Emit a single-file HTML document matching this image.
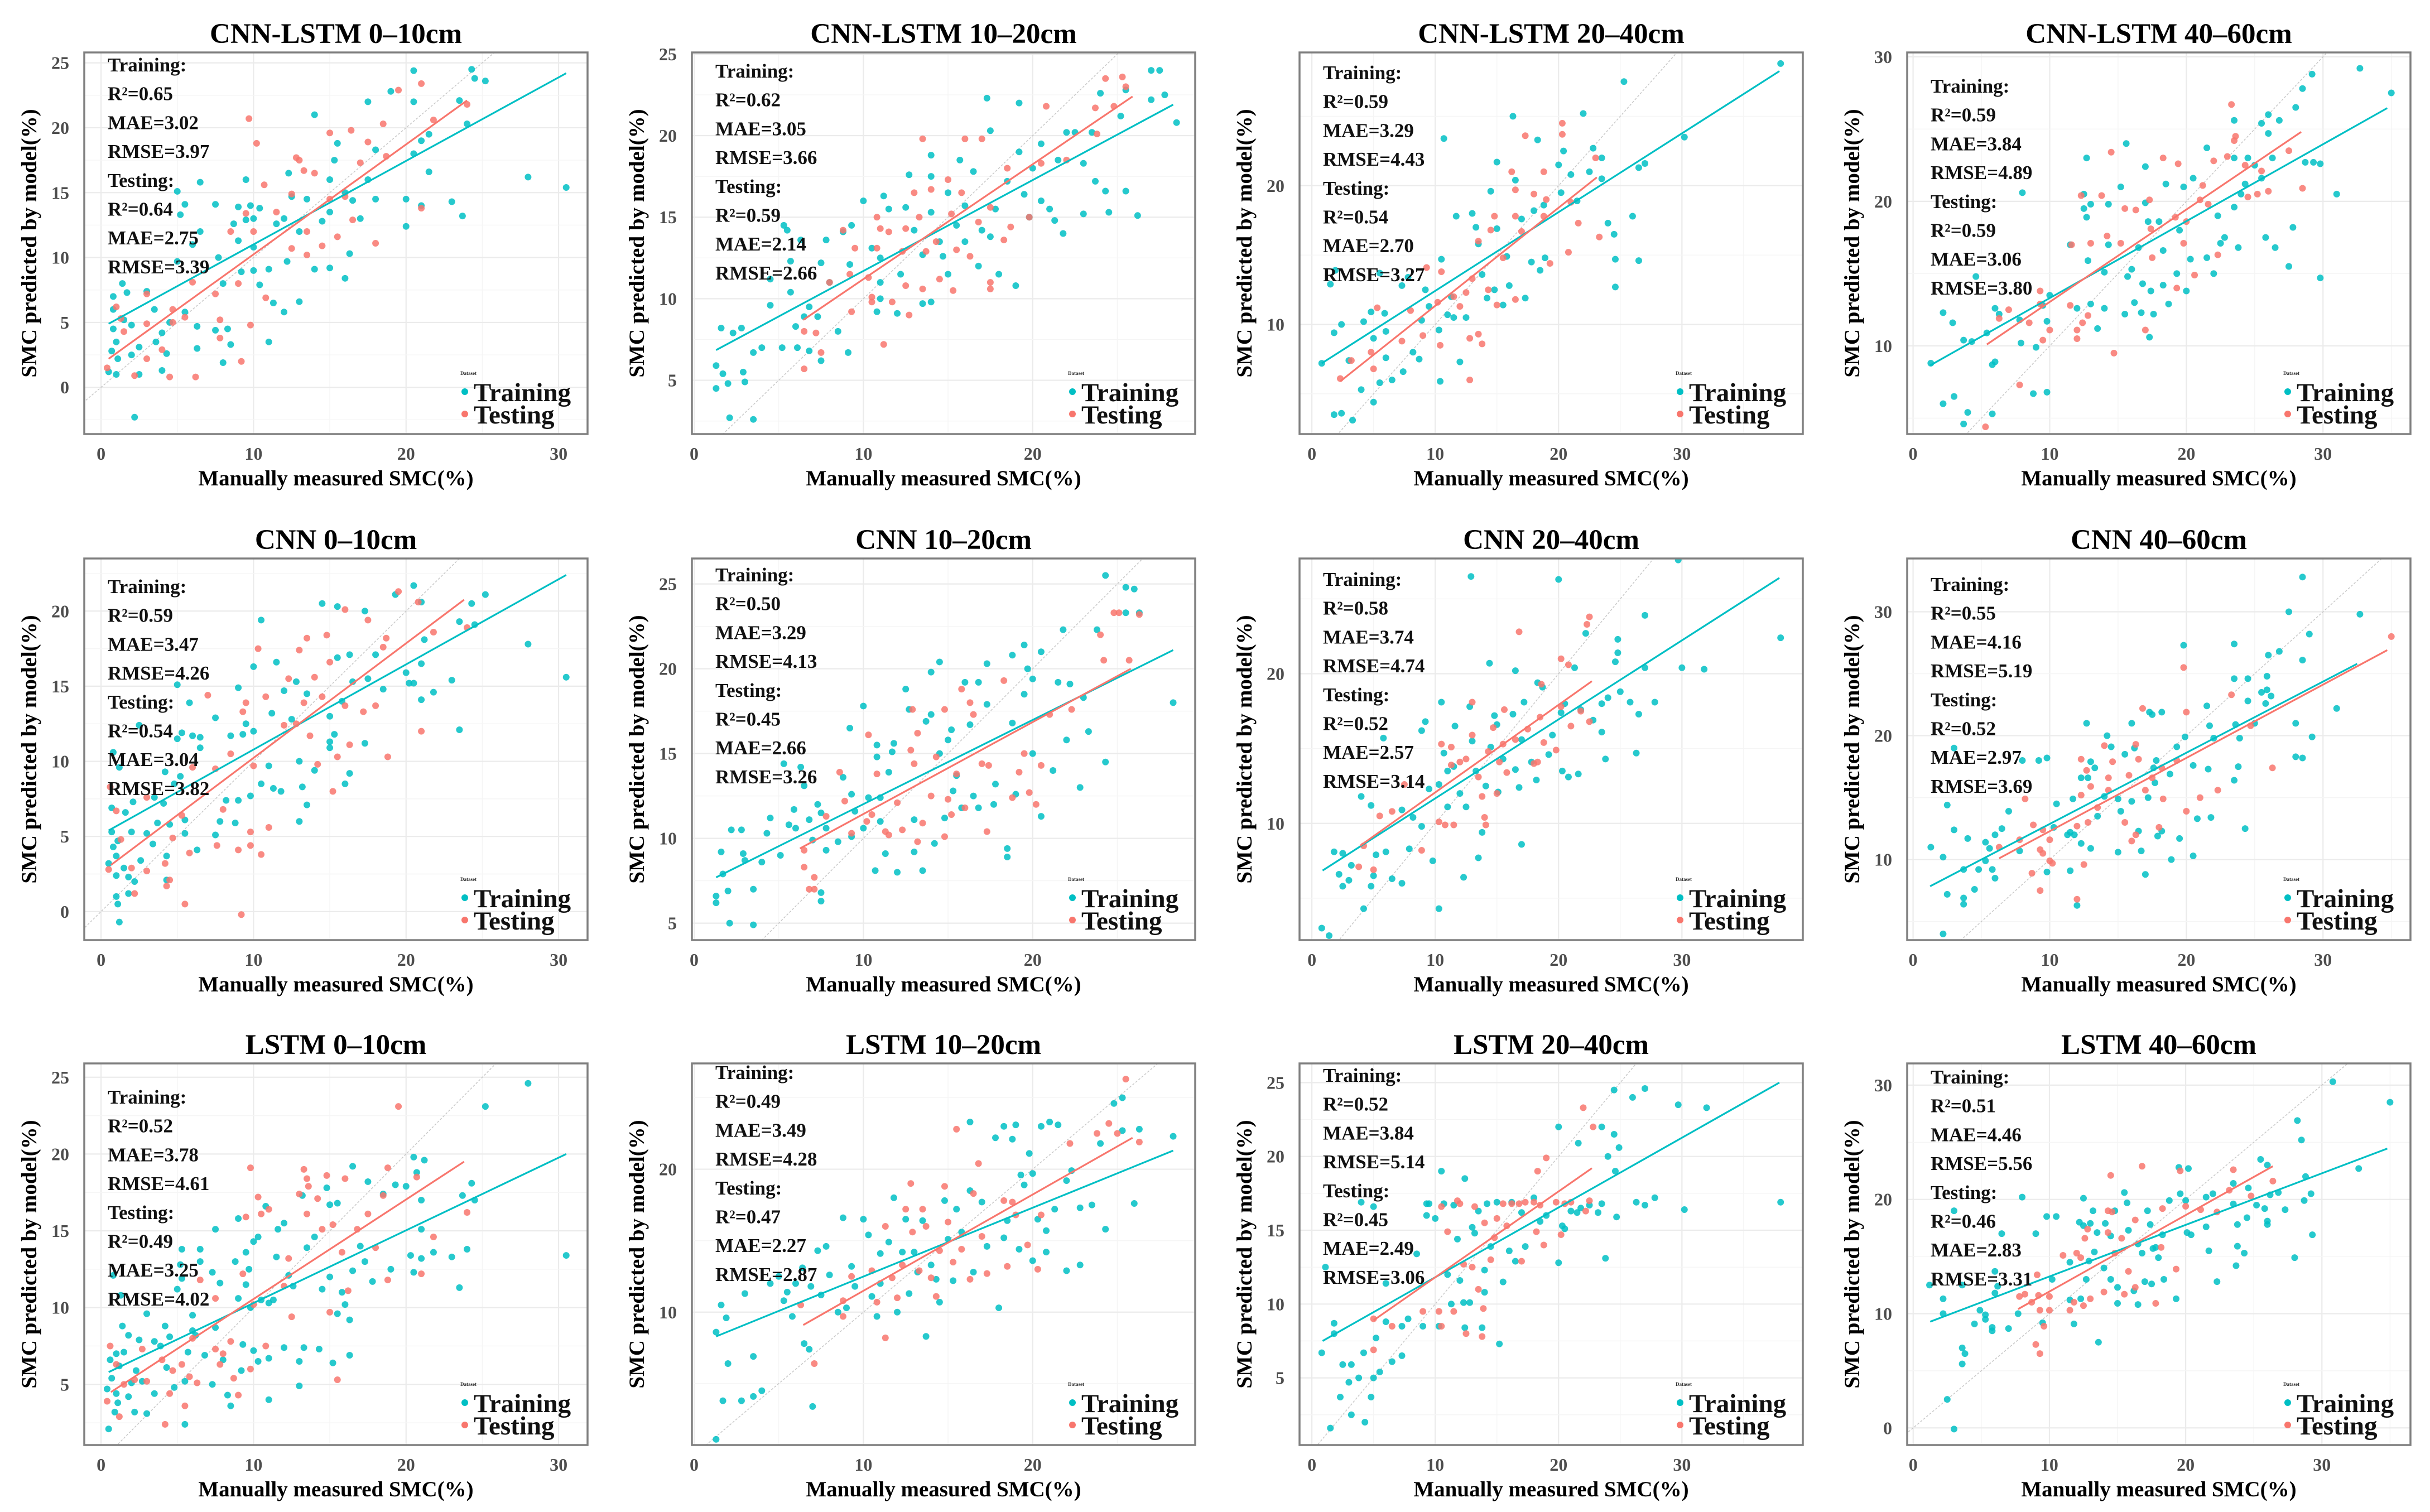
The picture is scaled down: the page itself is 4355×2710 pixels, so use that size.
<!DOCTYPE html>
<html><head><meta charset="utf-8"><title>SMC model scatter plots</title>
<style>
html,body{margin:0;padding:0;background:#fff;}
svg{display:block;font-family:"Liberation Serif","DejaVu Serif",serif;}
svg text{font-family:"Liberation Serif","DejaVu Serif",serif;}
</style></head>
<body>
<svg id="chart" xmlns="http://www.w3.org/2000/svg" width="4355" height="2710" viewBox="0 0 4355 2710"></svg>
<script>
// ---------- data ----------
const titles = ["CNN-LSTM 0–10cm","CNN-LSTM 10–20cm","CNN-LSTM 20–40cm","CNN-LSTM 40–60cm",
  "CNN 0–10cm","CNN 10–20cm","CNN 20–40cm","CNN 40–60cm",
  "LSTM 0–10cm","LSTM 10–20cm","LSTM 20–40cm","LSTM 40–60cm"];
const statsTrain = [["0.65","3.02","3.97"],["0.62","3.05","3.66"],["0.59","3.29","4.43"],["0.59","3.84","4.89"],
  ["0.59","3.47","4.26"],["0.50","3.29","4.13"],["0.58","3.74","4.74"],["0.55","4.16","5.19"],
  ["0.52","3.78","4.61"],["0.49","3.49","4.28"],["0.52","3.84","5.14"],["0.51","4.46","5.56"]];
const statsTest = [["0.64","2.75","3.39"],["0.59","2.14","2.66"],["0.54","2.70","3.27"],["0.59","3.06","3.80"],
  ["0.54","3.04","3.82"],["0.45","2.66","3.26"],["0.52","2.57","3.14"],["0.52","2.97","3.69"],
  ["0.49","3.25","4.02"],["0.47","2.27","2.87"],["0.45","2.49","3.06"],["0.46","2.83","3.31"]];
const xRanges = [[-1.1,31.9],[-0.13,29.6],[-1.0,39.8],[-0.43,36.4],[-1.1,31.9],[-0.13,29.6],[-1.0,39.8],[-0.43,36.4],[-1.1,31.9],[-0.13,29.6],[-1.0,39.8],[-0.44,36.5]];
const yRanges = [[-3.6,25.8],[1.7,25.1],[2.1,29.6],[3.9,30.3],[-1.9,23.5],[4.0,26.5],[2.2,27.7],[3.5,34.3],[1.05,25.9],[0.7,27.4],[0.45,26.3],[-1.5,31.9]];
const xTicks = [[0,10,20,30],[0,10,20],[0,10,20,30],[0,10,20,30],[0,10,20,30],[0,10,20],[0,10,20,30],[0,10,20,30],[0,10,20,30],[0,10,20],[0,10,20,30],[0,10,20,30]];
const yTicks = [[0,5,10,15,20,25],[5,10,15,20,25],[10,20],[10,20,30],[0,5,10,15,20],[5,10,15,20,25],[10,20],[10,20,30],[5,10,15,20,25],[10,20],[5,10,15,20,25],[0,10,20,30]];
const trainFit = [[0.5,4.9,30.5,24.2],[1.3,6.85,28.3,21.9],[0.8,7.2,37.9,28.25],[1.25,8.65,34.7,26.45],
  [0.5,5.4,30.5,22.4],[1.3,7.7,28.3,21.1],[0.87,6.85,37.9,26.4],[1.25,7.85,32.5,25.8],
  [0.5,5.8,30.5,20.0],[1.3,8.3,28.3,21.3],[0.87,7.5,37.9,25.0],[1.25,9.3,34.8,24.45]];
const testFit = [[0.5,2.2,24,22.1],[6.45,8.7,25.9,22.4],[2.3,5.9,23.1,20.6],[5.4,10.1,28.4,24.8],
  [0.65,3.1,23.8,20.75],[6.25,9.4,25.8,20.0],[3.9,8.5,22.7,19.5],[6.3,10.1,34.7,26.9],
  [0.65,4.5,23.8,19.5],[6.45,9.1,25.9,22.2],[5.0,8.9,22.7,19.2],[7.7,10.4,26.4,22.9]];

const train1=[[0.5,1.2],[0.7,2.8],[0.8,4.5],[1,3.5],[1,1],[1.1,2.2],[0.8,7],[0.8,6],[1.4,8],[1.7,7.3],[1.5,5.2],[2,4.8],[2,2.5],[2.2,-2.3],[2.5,3.1],[2.5,1],[3,7.4],[3.5,6],[3.6,3.5],[4,4.2],[4,1.3],[4.3,2.6],[4.5,5],[5,9.7],[5,15.1],[5.2,13.3],[5.5,14.1],[5.5,5.8],[6,11],[6.3,3],[6.3,4.7],[6.5,15.8],[6.5,12],[7.5,14.1],[7.5,4.4],[7.7,10],[8,1.9],[8,8],[8.3,4.5],[8.5,3.3],[8.7,12.6],[9,13.9],[9,11.3],[9.2,8.9],[9.5,16],[9.8,14],[9.5,12.9],[10,9],[10,10.8],[10,13],[10.4,7.9],[10.4,13.8],[11,9.1],[11,3.5],[11.3,6.5],[11.5,12.6],[12,13],[12,5.8],[12.2,9.7],[12.3,16.5],[12.5,14.7],[13,12],[13,6.6],[13.5,14.5],[14,21],[14,9.1],[14.5,12.8],[15,16],[15,13.5],[15,9.2],[15.3,17.5],[15.5,18.8],[16,8.4],[16,15],[16.3,10.3],[16.5,14.4],[17,13],[17.5,22],[17.5,16],[18,14.5],[18,18.3],[19,22.8],[20,12.4],[20,14.5],[20.5,24.4],[20.5,18],[20.5,22],[21,19],[21,14],[21.5,16.6],[21.5,19.5],[23,14.3],[23.5,22.1],[23.7,13.2],[24,20.3],[24.3,24.5],[24.5,23.8],[25.2,23.6],[28,16.2],[30.5,15.4]];
const test1=[[0.4,1.5],[1,6.2],[1.3,5.3],[1.5,4.3],[2.2,0.9],[3,7.2],[3,2.2],[3,4.9],[4,2.9],[4.5,0.8],[4.7,6],[4.7,5],[5.5,5.4],[6,8.1],[6.2,0.8],[7.5,7.2],[7.8,5.2],[7.8,3.8],[8.5,12],[9,8],[9.2,2],[9.5,13.4],[9.7,20.7],[9.8,4.8],[10,12],[10.2,18.8],[10.7,15.6],[10.8,6.9],[11.5,13.5],[12.5,10.7],[12.5,14.9],[12.8,17.7],[13,17.5],[13.3,16.7],[13.5,10.2],[13.5,12],[14,16.5],[14.5,10.9],[15,19.6],[15,14.5],[15.5,11.6],[16,14.7],[16.4,19.8],[16.5,12.9],[17,17.3],[17.5,18.9],[18,11.1],[18.5,20.3],[18.7,17.8],[19.5,22.9],[21,23.4],[21,13.8],[21.8,20.6],[24,21.8]];
const train2=[[1.3,4.5],[1.3,5.9],[1.6,8.2],[1.7,5.4],[2,4.8],[2.1,2.7],[2.3,7.9],[2.8,8.2],[2.9,5.5],[3,4.9],[3.5,2.6],[3.5,6.7],[4,7],[4.5,9.6],[4.5,11.2],[5.2,7],[5.3,14.5],[5.5,14.2],[5.7,10.4],[5.7,12.3],[6,8.3],[6.1,7],[6.3,13.6],[6.5,8.9],[6.8,9.5],[6.8,6.8],[7.3,8.9],[7.5,12.2],[7.5,6.2],[7.8,13.6],[8,11],[8.5,8],[8.8,14.1],[9.1,6.7],[9.2,12.1],[9.3,14.5],[10,16],[10.5,13.1],[10.8,9.2],[11,11],[11,10],[11,12.5],[11.2,16.3],[11.5,15.5],[12,9.1],[12.2,11.5],[12.5,15.6],[12.7,17.6],[13,14.2],[13.5,9.7],[13.5,12.7],[14,18.8],[14,17.5],[14,15.3],[14,9.8],[14.5,13.5],[14.7,12.6],[15,16.5],[15,11.5],[15.5,14.5],[15.7,18.5],[16,15.7],[16,13.5],[16.5,17.8],[16.8,12],[17,14.2],[17.3,22.3],[17.5,20.3],[17.5,13.8],[17.8,15.5],[18,11.5],[18.5,17.2],[19,10.8],[19.2,22],[19.2,19],[19.5,16.4],[19.8,15],[20,18],[20.5,19.5],[20.5,16],[21,15.5],[21.3,14.8],[21.5,18.5],[21.8,14],[22,20.2],[22.5,20.2],[23,15.2],[23,18.3],[23.5,20.2],[23.7,17.2],[24,22.6],[24.3,16.6],[24.5,15.3],[25.5,16.6],[25.2,21.2],[25.5,22.8],[26.2,15.1],[27,22.2],[27,24],[27.5,24],[27.8,22.5],[28.5,20.8]];
const test2=[[6.5,5.7],[6.5,8],[7.2,7.9],[7.5,6.7],[8,11],[8.8,14.2],[9.2,11.5],[9.3,9.2],[9.5,13.1],[10.3,11.3],[10.5,10.1],[10.8,15],[10.8,13.1],[10.5,9.8],[11,14.3],[11.2,7.2],[11.5,14.1],[11.7,9.8],[12.3,12.9],[12.5,14.3],[12.5,10.8],[12.7,9],[13,16.5],[13.5,19.8],[13.3,15],[13.5,10.6],[13.7,12.9],[14,16.7],[14.3,13.5],[14.5,11.2],[15,17.3],[15.2,15.2],[15.3,10.5],[15.5,13],[15.8,16.5],[16,19.8],[16.3,12.6],[16.8,14.7],[17,19.8],[17.5,15.6],[17.5,11],[17.5,10.6],[18.3,13.6],[18.5,18],[18.7,14.4],[19.8,15],[20.5,18.3],[20.8,21.8],[22,18.5],[23.7,21.7],[23.8,20.1],[24.3,23.5],[24.8,21.8],[25.3,23.6],[25.5,23]];
const train3=[[0.8,7.2],[1.5,12.9],[1.8,3.5],[1.8,9.4],[1.9,13.9],[2.4,3.6],[2.4,10],[3,7.4],[3.3,3.1],[4,5.3],[4.2,10.2],[4.8,10.9],[5,9],[5,4.4],[5.5,5.8],[5.5,13.7],[5.9,10.8],[6,7.6],[6,9.5],[6.5,6],[7.3,12.8],[7.4,6.6],[7.8,13.4],[8.2,8],[8.7,7.5],[8.9,10.3],[9.2,12.5],[9.5,11.3],[10.3,9.6],[10.4,5.9],[10.5,14.7],[10.7,23.4],[11,10.7],[11.3,12],[11.5,10.5],[11.7,17.8],[12,7.3],[12.5,10.5],[13,18],[13.3,17],[13.5,15.8],[13.8,13.6],[14.2,11.9],[14.5,19.6],[14.8,12.5],[15,16.9],[15,21.7],[15.5,11.4],[15.8,14.9],[16,12.8],[16.3,25],[16.5,20.4],[17,17.6],[17.3,11.9],[17.8,14.5],[18,18.2],[18.3,23.3],[18.5,13.9],[18.8,18.6],[18.9,14.8],[20,21.5],[20.2,19.5],[20.4,22.5],[21,20.8],[21.5,18.9],[22,25.2],[22.5,21],[22.8,22.7],[23.5,20.5],[23.5,22],[24,17.3],[24.5,16.5],[24.6,14.7],[24.6,12.7],[25.3,27.5],[26,17.8],[26.5,14.6],[26.5,21.3],[27,21.6],[30.2,23.5],[38,28.8]];
const test3=[[2.3,6.1],[3.2,7.4],[4.8,8],[5,6.8],[5.3,11.2],[7.3,8.8],[8,11],[9,9.2],[9.3,14.1],[10.2,11.6],[10.4,8.5],[10.5,13.8],[11.5,12],[12,11.3],[12.5,12.3],[12.8,6],[12.8,9],[13,13.3],[13.5,16],[13.5,9.3],[13.8,8.6],[14.3,12.5],[14.5,16.8],[14.8,17.8],[15,11.4],[15.5,14.8],[16.2,21],[16.5,19.7],[16.5,17.8],[16.5,11.8],[17,16.7],[17.3,23.6],[18,19.4],[18.8,21],[18.8,17.8],[19,19],[19.3,14.4],[20.3,24.5],[20.3,23.7],[20.8,15.2],[21,18.8],[21.6,17.3],[23,22],[23.3,16.3]];
const train4=[[1.3,8.8],[2.2,12.3],[2.2,6],[2.9,11.6],[3,6.5],[3.7,4.6],[3.7,10.4],[4,5.4],[4.3,10.3],[4.6,14.8],[5.4,10.9],[5.8,5.3],[5.8,8.7],[6,8.9],[6,12.6],[6.3,12.2],[7.8,11.8],[7.9,10.2],[8,20.6],[8.8,6.7],[9,9.9],[9.5,12.8],[9.8,6.8],[9.8,11.7],[10,13.5],[11.5,17],[12,12.6],[12.5,19.5],[12.5,20.5],[12.7,18.9],[12.7,23],[12.8,15.9],[13,19.8],[13,12.9],[13.5,11.2],[14,15.1],[14,12.6],[14.3,17],[14.3,19.8],[15.2,21],[15.5,12.2],[15.6,24],[15.7,14.8],[16,15.3],[16.2,13],[16.5,16.8],[16.7,12.3],[16.8,14.3],[17,22.4],[17,19.9],[17.2,18.6],[17.3,10.6],[17.4,13.8],[17.6,12.2],[18,18.6],[18.3,16.6],[18.3,14.2],[18.5,21.2],[18.7,12.9],[19.3,15],[19.5,18],[19.8,21],[20,13.8],[20.3,16],[20.5,21.6],[21.5,23.7],[21.5,16.1],[22,15],[22.3,19],[22.5,17.1],[22.8,17.5],[23.5,19.6],[23.5,25.6],[23.5,23],[23.8,16.8],[24,20.5],[24.3,21.2],[24.5,23],[25,22.5],[25.5,21.6],[25.5,25.4],[25.8,17.5],[26,24.7],[26,26],[26.3,23],[26.5,16.8],[26.8,25.6],[27.5,15.5],[27.8,18.2],[28,26.5],[28.5,27.8],[28.7,22.7],[29.2,28.8],[29.3,22.7],[29.8,22.6],[29.8,14.7],[31,20.5],[32.7,29.2],[35,27.5]];
const test4=[[5.3,4.4],[6.3,11.9],[7,12.5],[7.8,7.3],[8.5,11.6],[9.3,13.8],[9.3,12.9],[9.5,10.4],[10,11.1],[11.5,12.8],[11.6,17],[12,11.1],[12,10.5],[12.3,20.4],[12.4,11.6],[12.8,12.1],[13,17.1],[13.8,20.4],[14.2,17.6],[14.5,23.4],[14.7,9.5],[15.2,17.1],[15.5,19.5],[16.3,19.4],[17,11.1],[17.3,20.1],[17.4,18.1],[17.5,16.1],[18.3,23],[19.2,18.9],[19.3,14],[19.4,22.6],[19.8,17.1],[20,18.6],[20.6,14.9],[21,20.1],[21.2,21.1],[21.6,19.8],[22,22.8],[22.3,16.3],[23,23.1],[23.3,26.7],[23.5,24.2],[23.6,24.5],[24.3,22.5],[24.5,20.3],[25.2,20.5],[25.5,22.1],[26,20.7],[27.5,23.5],[28.5,20.9]];
const train5=[[0.5,3.2],[0.7,5.3],[0.7,6.9],[0.8,10.6],[0.8,4.3],[1,1],[1,3.7],[1,2.4],[1.1,0.5],[1.1,4.7],[1.2,9.6],[1.2,-0.7],[1.5,2.9],[1.6,6.6],[1.8,1.2],[1.8,2.3],[2,5.3],[2.1,7.3],[2.2,2],[2.5,12.4],[2.6,3.4],[3,5.2],[3.4,4.5],[3.5,7.6],[3.7,5.9],[4.1,7.2],[4.2,9.3],[4.3,3.7],[4.3,2.1],[4.5,5.8],[4.8,8.5],[5,11.5],[5,15.1],[5.2,9],[5.3,11.9],[5.5,5.2],[5.5,6.1],[5.8,13.9],[6,11.7],[6.3,4.1],[6.5,11.6],[6.5,10.9],[7.5,12.9],[7.5,5.1],[7.8,6],[8.2,7.4],[8.5,11.7],[8.8,5.9],[9,14.9],[9,7.4],[9.3,11.8],[9.5,12.5],[9.8,7.7],[10,16.3],[10,12],[10.5,19.4],[10.5,8.5],[11,9.7],[11.2,13.2],[11.3,8.2],[11.5,16.6],[11.8,8],[12,14.7],[12.5,12.8],[12.8,15.3],[13,6],[13,10],[13.2,8.3],[13.5,7.1],[13.5,14.5],[14,9.4],[14.5,20.5],[15,13],[15,11.3],[15,10.9],[15.3,11.8],[15.5,20.3],[15.5,16.9],[15.8,14],[16,8.5],[16.3,17.1],[16.3,9.2],[16.5,15.3],[17.3,20],[17.3,11.2],[17.5,15.5],[18,17.1],[18.5,14.8],[19.3,21.1],[20,15.9],[20.2,15.2],[20.5,21.7],[20.5,15.2],[21,16.5],[21,14.1],[21,20.6],[21.2,18.1],[21.8,14.6],[23,15.4],[23.5,19.3],[23.5,12.1],[24.3,20.5],[24.5,19.1],[25.2,21.1],[28,17.8],[30.5,15.6]];
const test5=[[0.5,2.8],[0.6,8.3],[1,6.7],[1.3,4.8],[2,2.9],[2.2,1.2],[3,2.7],[3,7.6],[4.2,3.2],[4.3,1.7],[4.5,2.1],[4.7,4.9],[5.5,0.5],[5.3,6.4],[5.8,3.9],[6,9.6],[7,14.4],[7.5,9.5],[7.6,4.4],[8,6.8],[8.5,10.5],[9,4.1],[9.2,-0.2],[9.3,13.3],[9.5,13.9],[9.8,4.4],[9.8,5.3],[10,9.7],[10.3,17.5],[10.5,3.8],[10.8,14.3],[11,5.6],[12,12.4],[12.3,15.5],[12.8,12.5],[13,17.4],[13.3,13.9],[13.5,18.2],[13.7,11.7],[14,15.6],[14.2,9.8],[14.5,14.3],[14.8,18.4],[15,16.6],[15.2,8],[15.5,10.3],[16,20.1],[16,13.7],[16.3,11.1],[17.2,13.3],[17.5,19.4],[18,13.7],[18.5,17.6],[18.7,18.2],[18.8,10.3],[19.5,21.3],[21,12],[20.8,20.6],[21.8,18.6],[24,18.9]];
const train6=[[1.3,6.6],[1.3,6.2],[1.6,9.2],[1.7,7.9],[2,6.9],[2.1,5],[2.2,10.5],[2.8,10.5],[2.9,9.1],[3,8.7],[3.5,7],[3.5,4.9],[4,8.6],[4.3,10.3],[4.5,11.2],[5.1,9],[5.3,14.4],[5.6,10.8],[5.9,11.7],[6,10.6],[6.3,14.2],[6.5,13.1],[6.8,11.1],[7,9.9],[7.3,12],[7.5,6.8],[7.5,6.3],[7.5,11.5],[7.8,10.6],[7.8,9.3],[8.5,9.8],[8.8,13.6],[9.2,16.5],[9.3,10.1],[9.3,12.6],[9.5,11.6],[10,17.8],[10,10.6],[10.3,12.4],[10.7,8.1],[10.8,14.8],[10.8,15.5],[11,11],[11,12.4],[11.3,9.1],[11.5,13.9],[11.7,15.1],[11.8,15.6],[12,8],[12.5,18.8],[12.7,17.6],[13,9.2],[13,11.1],[13.5,8.1],[13.7,16.9],[14,17.3],[14,19.8],[14.2,9.7],[14.5,15],[14.5,20.4],[14.8,11.2],[15,15.8],[15.2,16.4],[15.3,12.8],[15.5,13.7],[15.8,11.8],[16,19.2],[16.3,16.7],[16.5,12.5],[16.8,19.2],[16.8,11.8],[17.3,17.9],[17.3,20.3],[17.7,12],[17.8,13.2],[18.5,8.9],[18.5,9.4],[18.8,20.8],[18.8,16.8],[19,12.6],[19.5,21.4],[19.5,18.5],[19.7,20],[20,19.4],[20,15],[20.5,11.3],[20.5,21],[21.2,14],[21.5,19.2],[21.8,22.3],[22,15.8],[22.2,19.1],[22.8,13],[23,18.3],[23.3,16.3],[23.8,22.3],[24.3,14.5],[24.3,25.5],[25.5,23.3],[25.5,24.8],[26,24.7],[26.3,23.3],[28.3,18]];
const test6=[[6.5,9.3],[6.5,8.3],[6.8,7],[7.1,7.7],[7.1,7],[7.8,11.3],[8.6,13.9],[8.9,12.2],[9.3,10.3],[10.2,11],[10.3,16.1],[10.5,11.4],[10.8,13.8],[11.3,10.4],[11.5,10.2],[12,12.1],[12.3,10.5],[12.8,15.2],[12.9,17.6],[13,14.4],[13.2,16.2],[13.2,9.8],[13.5,10.9],[14,12.5],[14.3,14.8],[14.8,17.6],[14.8,10.1],[15,12.3],[15.2,11.4],[15.5,13.8],[15.8,18.8],[16,11.8],[16.3,18],[16.5,17.3],[17,14.4],[17.3,10.4],[17.4,14.3],[18.3,19.3],[18.8,12.4],[19.2,13.9],[19.5,15],[19.8,12.7],[20.2,12],[20.5,14.3],[21,17.3],[22.3,17.6],[24,22],[24.2,20.5],[24.8,23.3],[25.1,23.3],[25.7,20.5],[26.3,23.2]];
const train7=[[0.8,3],[1.4,2.5],[1.8,8.1],[2.2,6.6],[2.5,5.8],[2.5,8],[3,6.2],[3.2,2],[3.2,7.2],[4,11.8],[4.2,4.3],[4.8,11.2],[4.8,5.8],[5,6.5],[5.2,7.9],[5.8,15.7],[6,8.1],[6.5,6.3],[7.3,6],[7.3,10.9],[7.9,8.3],[8.2,10.4],[8.9,16.2],[8.9,9.8],[9.2,16.8],[9.5,12.3],[9.8,7.5],[10.3,12.6],[10.3,4.3],[10.5,18.1],[10.7,14.7],[11,13.5],[11,11.1],[11.5,13.8],[11.6,16.5],[12,12],[12.3,6.4],[12.5,11.1],[12.8,17.8],[13,15.5],[13.3,13.5],[13.5,7.7],[13.8,9.4],[14.1,12.5],[14.4,20.7],[14.5,15.1],[14.8,17.2],[15,16.6],[15.1,12.1],[15.5,14.3],[16.3,17.3],[16.5,20.2],[16.5,13.6],[16.8,12.4],[17,15.6],[17,8.6],[17.2,18.1],[17.8,14.1],[18.2,12.9],[18.3,19.4],[18.7,19.1],[19.2,14.6],[19.5,15.9],[20,26.3],[20.2,17.4],[20.3,13.5],[20.5,18],[20.8,13.1],[21.3,20.4],[21.6,13.3],[21.8,17.6],[22.2,22.7],[22.8,16.9],[23.5,16.1],[23.5,18],[23.8,14.3],[24,18.4],[24.6,20.8],[24.8,21.4],[24.8,22.3],[25,18.8],[25.8,18.1],[26.3,14.7],[26.5,17.3],[27,23.9],[27,20.4],[27.8,18.1],[29.7,27.6],[30,20.4],[31.8,20.3],[38,22.4],[12.9,26.5]];
const test7=[[3.8,7.1],[4.2,8.5],[5,6.9],[5.5,10.5],[6.5,10.8],[7.5,12.6],[8.9,8.2],[10.3,10.1],[10.5,15.3],[10.8,9.9],[11.3,15.1],[11.3,13.9],[11.5,9.9],[12,14.1],[12.5,14.3],[13,15.9],[13,18.1],[13.5,13.1],[13.8,11.8],[14,10.4],[14.1,9.9],[14.3,14.8],[14.7,16.4],[15,12],[15.2,14.1],[15.5,15.3],[15.6,17.6],[15.8,13.4],[16.5,15.6],[16.8,22.8],[17.5,16.3],[18,14],[18.3,14.1],[18.5,17.1],[18.6,19.3],[18.8,15.4],[19.8,14.9],[20.2,21],[20.2,17.8],[20.8,20.6],[21,16.5],[21.8,17.5],[22.3,23.3],[22.5,16.8],[22.5,23.8]];
const train8=[[1.3,11],[2.2,10.2],[2.2,4],[2.5,14.4],[2.5,7.2],[3,12.4],[3,19],[3.7,9.2],[3.7,6.9],[3.7,6.4],[4,11.7],[4.5,7.6],[4.8,9.2],[5.3,11.4],[5.3,9.9],[5.6,10.9],[5.8,9.2],[6,8.5],[6,12],[6.5,12.5],[7,13.9],[7.8,10.7],[8,18],[9.2,18],[9.8,9],[9.8,18.2],[10.3,12.6],[10.5,14.5],[11.3,12],[11.5,9.1],[11.5,12.2],[11.7,14.9],[11.8,12],[12,6.3],[12.3,16.6],[12.3,11.3],[12.7,21],[12.8,16.6],[13,17.9],[13,10.9],[13.3,17.4],[13.5,13.5],[14,15.1],[14.2,20],[14.5,19.1],[15,14.9],[15,10.6],[15.2,13.9],[15.5,18.5],[16,14.7],[16,21],[16.2,19],[16.5,12.3],[16.7,10.7],[17,8.8],[17.2,15],[17.3,21.9],[17.5,21.7],[17.6,17.4],[17.7,16.2],[17.8,18],[17.9,11.9],[18.2,21.9],[18.2,12.3],[18.8,16.9],[18.9,10],[19.3,19.1],[19.5,11.7],[19.8,27.3],[19.9,19.9],[20.5,17.6],[20.5,10.3],[20.8,13.3],[21.5,22.4],[21.6,17.3],[21.7,20.8],[21.8,13.4],[22,19.8],[23.5,24.6],[23.5,16.4],[23.5,27.4],[23.6,20.9],[23.8,17.5],[23.9,19.8],[24.3,12.5],[24.5,24.6],[24.5,22.8],[25,21],[25.5,23.5],[25.8,22.6],[25.9,23.7],[25.9,24.8],[26,26.5],[26.2,23.2],[26.8,26.8],[27.5,30],[28,21],[28,18.3],[28.5,26.1],[28.5,18.2],[28.5,32.8],[29,28.2],[29.2,19.9],[31,22.2],[32.7,29.8]];
const test8=[[6.3,11],[7.8,11.6],[8.2,14.9],[8.7,8.9],[8.8,12.8],[9.3,10.8],[9.3,7.5],[9.5,12.4],[9.5,10.5],[10,11.6],[10,9.9],[10.2,9.7],[12,6.8],[12,12.7],[12.3,15.2],[12.3,18.1],[12.5,9.6],[12.7,17.2],[12.8,13],[13,15.9],[13.5,14.2],[14,19.2],[14.3,15.6],[14.3,16.6],[14.6,17.9],[15.5,13],[15.8,16.8],[16,11.5],[16.3,12],[16.3,19.3],[16.5,18.1],[16.8,22.2],[17,15.6],[17.5,16.6],[18,12.6],[18.2,17.4],[18.3,14.9],[19.3,18],[19.8,25.5],[20,13.9],[20,21.9],[21,15],[22.3,15.6],[23.3,23.3],[24.7,20.8],[26.3,17.4],[35,28]];
const train9=[[0.4,4.7],[0.5,2.1],[0.6,6.6],[0.7,5.4],[0.8,12.1],[0.9,3.2],[1,4.4],[1,7],[1.1,3.8],[1.2,6.2],[1.3,10.8],[1.4,8.8],[1.5,7.1],[1.8,4.2],[1.8,8.2],[2,5.1],[2.2,3.2],[2.3,5.9],[2.5,7.9],[2.7,5.2],[3,9.6],[3,3.1],[3.5,4.4],[3.5,7.8],[3.9,7.5],[4.2,8.8],[4.3,6.1],[4.5,8.1],[4.8,4.8],[5,11.2],[5.2,12.8],[5.3,13.8],[5.3,11.9],[5.5,2.4],[5.5,5.2],[5.7,7.1],[6,8.5],[6,9.5],[6.2,8.2],[6.5,13],[6.5,13.8],[6.8,6.9],[7.3,12.3],[7.3,5],[7.5,15.1],[7.5,8.7],[7.8,11.6],[8,6.6],[8.3,4.3],[8.5,3.6],[8.8,13],[9,15.8],[9,10.6],[9.2,5.9],[9.3,7.6],[9.5,13.6],[9.5,11.5],[9.7,12.5],[9.8,10],[10,14.3],[10,7.2],[10.3,14.6],[10.3,6.5],[10.5,10.5],[10.8,16.6],[11,4],[11,6.7],[11,10.3],[11.3,10.5],[11.5,13.3],[11.6,15.1],[12,15.5],[12,7.4],[12.3,12.1],[12.6,11.4],[13,4.9],[13,6.5],[13.2,17.3],[13.3,7.4],[13.5,13.9],[14,14.6],[14.3,7.3],[14.5,11.2],[14.8,17.8],[15,12],[15,16.7],[15.2,6.4],[15.5,9.6],[15.5,16.8],[15.8,11],[16,10.2],[16.3,9.2],[16.3,6.9],[16.5,19.2],[16.5,12.4],[17,14],[17.3,13],[17.5,18.2],[17.8,11.7],[18.5,17.4],[19,12.5],[19.3,18],[20,17.9],[20.3,13.4],[20.5,19.8],[20.5,12.3],[20.7,18.8],[21,13.2],[21,15.1],[21,17],[21.2,19.6],[21.8,13.6],[23,13.3],[23.5,11.3],[23.7,17.3],[24,13.8],[24.3,18.1],[24.5,17],[25.2,23.1],[28,24.6],[30.5,13.4]];
const test9=[[0.4,3.9],[0.6,7.5],[1,6.3],[1.2,2.9],[1.5,5],[2.2,5.3],[2.7,7.3],[3,5.2],[4,6.6],[4.2,2.4],[4.5,4.4],[4.7,5.9],[5.3,6.3],[5.5,3.6],[5.8,5.5],[6,8],[6.3,5.1],[6.5,11.8],[7.5,10.6],[7.5,7.3],[7.8,6.3],[8,7],[8.5,7.8],[8.7,5.4],[9,4.3],[9.3,12.2],[9.5,15.9],[9.8,6],[9.8,19.1],[10,10.2],[10.3,17.2],[10.5,16.1],[10.8,7.5],[11,16.4],[12,11.4],[12.3,13.2],[12.5,9.4],[13,17.4],[13.3,19],[13.5,16.1],[13.5,18.4],[13.6,17.9],[14.2,17.1],[14.5,15.1],[14.8,18.6],[15,9.7],[15.2,15.4],[15.5,5.3],[15.8,13.6],[16,18.4],[16.2,11.1],[16.8,15.1],[17.5,16.1],[18,13.9],[18.5,17.3],[18.8,19.1],[18.8,11.8],[19.5,23.1],[20.7,18.5],[21,12.2],[21.8,14.6],[24,16.2]];
const train10=[[1.3,1.1],[1.3,8.6],[1.6,10.5],[1.7,3.8],[1.9,9.6],[2,6.4],[2.8,3.8],[3,11.3],[3.5,4.1],[3.5,6.9],[4,4.5],[4.5,12],[5,12.5],[5.3,10.8],[5.5,11.4],[5.8,9.7],[6,12],[6.4,13.1],[6.5,7.8],[6.8,7.4],[6.9,11.8],[7,3.4],[7.3,14.3],[7.5,11.2],[7.8,14.6],[8,12.6],[8.5,10],[8.8,16.6],[9,10.3],[9.3,13.2],[9.5,11.8],[10,16.5],[10.3,15.4],[10.5,11.1],[10.8,9.7],[11,14.1],[11,12],[11.5,14.9],[11.8,18],[12,10],[12.3,14.2],[12.5,16.5],[12.7,11.3],[13,14.2],[13.2,12.8],[13.5,16.4],[13.7,8.3],[14,13.3],[14.3,12.3],[14.5,10.7],[14.8,17.8],[15,15.1],[15.3,12.2],[15.5,17.2],[15.8,15.6],[16.3,23.3],[16.3,18.5],[16.5,12.8],[17,17.7],[17.3,14.6],[17.8,22.2],[18,10.3],[18.3,15.2],[18.3,23],[18.5,16.4],[18.8,22.1],[19,23.1],[19.2,14.4],[19.3,19.6],[19.5,18.9],[19.8,21.1],[20,19.7],[20,13.6],[20.3,16.5],[20.5,23],[20.8,15.7],[20.8,14.2],[21,23.3],[21.3,17.2],[21.5,23.1],[22,19.2],[22,12.9],[22.3,19.9],[22.8,17.3],[22.8,13.3],[23.5,17.5],[24,21.8],[24.3,15.8],[24.8,24.6],[25.3,25],[25.3,22.7],[26,17.6],[26.3,22.8],[28.3,22.3]];
const test10=[[6.3,10.5],[7.1,6.4],[8.8,9.7],[8.8,10.8],[9.3,12.5],[10.5,12.9],[10.8,10.7],[11.3,16],[11.3,8.2],[11.7,12.4],[12,11],[12.3,13.3],[12.5,17.2],[12.8,19],[12.9,15.6],[13.3,12.9],[13.5,17.2],[13.7,16],[14,12.4],[14.3,11.1],[14.5,14.3],[14.8,18.8],[15,16.3],[15.3,13.5],[15.5,22.8],[15.8,14.4],[16.3,12.3],[16.5,18.3],[16.8,20.4],[17,15.3],[17.3,12.7],[18.3,17.8],[18.5,13.2],[18.8,17.7],[19,16.8],[19.7,14.7],[20.3,13],[20.5,16.8],[22.2,21.8],[23.8,22.5],[24.5,23.2],[25,22.5],[25.5,26.3],[26.3,21.9]];
const train11=[[0.8,6.7],[1.1,12.5],[1.5,1.6],[1.8,8],[1.8,8.7],[2.3,3.7],[2.5,5.9],[3,4.7],[3.2,2.5],[3.2,5.9],[3.8,5],[4,16.9],[4.2,6.7],[4.3,2],[4.8,3.7],[5,16.6],[5,5],[5.2,7.7],[5.5,5.4],[6,8.8],[6,11.4],[6.5,6.1],[7.3,8.5],[7.3,6.5],[7.8,9],[8.5,13.4],[9,8.5],[9.3,16.8],[9.3,16],[9.5,16.8],[10,15.8],[10.3,8.5],[10.5,19],[10.7,16.8],[11,12],[11.3,10],[11.5,16.7],[11.8,14.4],[12,11.6],[12.3,10.1],[12.4,18.5],[12.4,8.4],[12.8,10.1],[13,15.2],[13.2,14.8],[13.5,16.3],[13.8,8.4],[14,12.3],[14,10.8],[14.2,16.8],[14.5,13.9],[15,16.9],[15.2,7.3],[15.5,11.5],[16,13.6],[16.2,16.9],[16.5,12.9],[17,16.2],[17.3,13.9],[18,17.2],[18.5,15.6],[19,16],[20,22],[20,12.8],[20.3,15.3],[20.5,15.1],[21,16.3],[21.5,16.2],[21.6,20.9],[21.8,16.5],[22.5,16.7],[23.2,16.2],[23.5,22],[23.5,16.8],[23.8,13.1],[24,20],[24.5,21.5],[24.5,24.5],[24.6,19],[24.7,15.9],[24.9,20.6],[26,24],[26.3,16.9],[27,24.6],[27,16.7],[27.8,17.2],[29.7,23.5],[30.2,16.4],[32,23.3],[38,16.9]];
const test11=[[5,6.9],[5,9],[6.5,8.5],[9,9.5],[10.3,9.5],[10.5,8.5],[10.5,16.6],[11,14.9],[11.5,9.5],[11.8,17],[12,16.8],[12.3,12.7],[12.5,8],[13,12.5],[13.2,16.6],[13.5,11],[13.8,7.8],[13.9,9.7],[14,15.5],[14.5,13],[14.8,14.5],[15,15.8],[15.5,16.8],[15.8,15.3],[16.2,16.8],[16.8,16.8],[17,12.9],[17.3,16.9],[18,16.9],[18.2,14.9],[18.3,19],[18.5,16.7],[18.8,14],[19,19.9],[19.8,16.9],[20.2,14.7],[20.5,16.8],[21,16.9],[22,23.3],[22.2,16.3],[22.8,22],[22.5,17]];
const train12=[[1.2,12.5],[2.2,11.3],[2.2,10],[2.5,2.5],[3,19],[3,-0.1],[3.6,12.5],[3.6,7],[3.6,5.6],[3.8,6.5],[4.5,9.1],[4.9,10.3],[5.3,9.9],[5.3,9.5],[5.8,8.8],[5.8,8.5],[6,11.8],[6,13.7],[6.2,12.4],[6.5,17],[7,8.7],[7.7,10],[8,20.2],[9,17],[9.5,9.2],[9.8,18.5],[10.2,13],[10.5,18.5],[11.5,14.5],[11.5,11.2],[11.8,9.1],[12.2,18],[12.3,11.3],[12.5,17.7],[12.5,20.1],[12.7,13],[12.9,14.6],[13,17.9],[13.2,19],[13.3,15.4],[13.5,17.1],[13.6,7.5],[14,14],[14.1,17.9],[14.5,16.8],[14.5,13],[14.8,19],[15,12.3],[15,10.9],[15.5,20.6],[15.7,19.7],[15.8,17.3],[16.2,12],[16.5,16.1],[16.5,10.8],[16.8,15.3],[17,12.8],[17.2,19],[17.4,17.8],[17.5,12.6],[17.6,15.7],[17.8,15.8],[18,14.9],[18.3,16.9],[18.4,13],[18.8,19.9],[19.3,11.3],[19.5,22.8],[19.6,20.5],[20,19.9],[20.1,17.1],[20.2,22.7],[20.4,16.9],[21.5,20.2],[21.5,17.6],[21.7,15.5],[22,20.5],[22.3,12.8],[23.5,21.4],[23.5,19.6],[23.7,14.2],[23.8,17.8],[23.8,15.9],[24.3,15.3],[24.5,18.4],[24.6,21],[25.2,19.5],[25.5,23.5],[25.8,19.2],[26,23],[26,18.1],[26,17.8],[26.2,20.4],[26.8,20.6],[27.3,19.1],[28,14.9],[28.2,26.9],[28.5,25.2],[28.7,19.9],[28.8,22],[29.2,20.5],[29.3,16.9],[30.8,30.3],[32.7,22.7],[35,28.5]];
const test12=[[7.8,11.5],[8.2,11.7],[8.7,11],[9,7.3],[9.1,13.4],[9.2,11.6],[9.3,10.3],[9.3,6.5],[9.6,8.9],[10,11.5],[10,10.3],[11,15.1],[11.5,10.3],[11.8,11],[12,15.3],[12.3,14.9],[12.5,10.7],[12.6,16.6],[12.8,17.4],[13,11.3],[14,11.9],[14.3,19],[14.3,17.1],[14.5,22.1],[14.6,18.9],[14.8,15.3],[15.3,16.6],[15.5,11.7],[15.8,13.7],[16.3,18.2],[16.3,12.3],[16.8,22.9],[17.8,10.9],[18.2,15.8],[18.3,19.2],[19.3,13.9],[19.6,22.5],[20,19.4],[21.1,19.1],[22.3,18.9],[23.2,20.8],[23.5,22.6],[24.8,20.3],[26.4,21.6]];

const trainSets=[train1,train2,train3,train4,train5,train6,train7,train8,train9,train10,train11,train12];
const testSets=[test1,test2,test3,test4,test5,test6,test7,test8,test9,test10,test11,test12];
const statsOffset=[34,45,48,72,62,41,49,58,72,28,33,36];

// ---------- layout ----------
const NS="http://www.w3.org/2000/svg";
const FONT='"Liberation Serif", "DejaVu Serif", serif';
const svg=document.getElementById('chart');
const colLeft=[151,1240,2329,3418], rowTop=[94,1001,1906];
const PW=902, PH=684;
const TRAIN_C="#00bfc4", TEST_C="#f8766d";
function mk(tag,attrs,parent){const e=document.createElementNS(NS,tag);for(const k in attrs)e.setAttribute(k,attrs[k]);if(tag==='text')e.setAttribute('font-family',FONT);(parent||svg).appendChild(e);return e;}

for(let i=0;i<12;i++){
  const L=colLeft[i%4], T=rowTop[Math.floor(i/4)];
  const xr=xRanges[i], yr=yRanges[i];
  const sx=v=>L+(v-xr[0])/(xr[1]-xr[0])*PW;
  const sy=v=>T+PH-(v-yr[0])/(yr[1]-yr[0])*PH;
  const g=mk('g',{});
  
  
  const clipId='clip'+i;
  const cp=mk('clipPath',{id:clipId},g);
  mk('rect',{x:L,y:T,width:PW,height:PH},cp);
  const grid=mk('g',{'clip-path':'url(#'+clipId+')'},g);
  
  
  const xs=xTicks[i][1]-xTicks[i][0], ys=yTicks[i][1]-yTicks[i][0];
  for(let v=xTicks[i][0]-xs/2; v<=xr[1]; v+=xs/2){
    const major=Math.abs((v/xs)-Math.round(v/xs))<1e-6;
    mk('line',{x1:sx(v),x2:sx(v),y1:T,y2:T+PH,stroke:major?'#ebebeb':'#f5f5f5','stroke-width':major?2.2:1.4},grid);
  }
  for(let v=yTicks[i][0]-ys; v<=yr[1]+ys; v+=ys/2){
    const major=Math.abs((v/ys)-Math.round(v/ys))<1e-6;
    mk('line',{x1:L,x2:L+PW,y1:sy(v),y2:sy(v),stroke:major?'#ebebeb':'#f5f5f5','stroke-width':major?2.2:1.4},grid);
  }
  const lo=Math.min(xr[0],yr[0])-5, hi=Math.max(xr[1],yr[1])+5;
  const diag=mk('line',{x1:sx(lo),y1:sy(lo),x2:sx(hi),y2:sy(hi),stroke:'#c8c8c8','stroke-width':1.5,'stroke-dasharray':'4,3','clip-path':'url(#'+clipId+')'},g);
  
  
  const pts=mk('g',{'clip-path':'url(#'+clipId+')'},g);
  trainSets[i].forEach(p=>{
    const c=mk('circle',{cx:sx(p[0]),cy:sy(p[1]),r:6,fill:TRAIN_C,'fill-opacity':0.85},pts);
    
    
  });
  testSets[i].forEach(p=>{
    const c=mk('circle',{cx:sx(p[0]),cy:sy(p[1]),r:6,fill:TEST_C,'fill-opacity':0.85},pts);
    
    
  });
  const tf=trainFit[i], sf=testFit[i];
  const l1=mk('line',{x1:sx(tf[0]),y1:sy(tf[1]),x2:sx(tf[2]),y2:sy(tf[3]),stroke:TRAIN_C,'stroke-width':3.2},g);
  
  
  const l2=mk('line',{x1:sx(sf[0]),y1:sy(sf[1]),x2:sx(sf[2]),y2:sy(sf[3]),stroke:TEST_C,'stroke-width':3.2},g);
  
  
  const fr=mk('rect',{x:L,y:T,width:PW,height:PH,fill:'none',stroke:'#808080','stroke-width':3.5},g);
  
  
  xTicks[i].forEach(v=>{
    const t=mk('text',{x:sx(v),y:T+PH+46,'text-anchor':'middle','font-size':32,'font-weight':'bold',fill:'#4d4d4d'},g);
    t.textContent=v;
    
    
  });
  yTicks[i].forEach(v=>{
    const t=mk('text',{x:L-27,y:sy(v)+11,'text-anchor':'end','font-size':32,'font-weight':'bold',fill:'#4d4d4d'},g);
    t.textContent=v;
    
    
  });
  const tt=mk('text',{x:L+PW/2,y:T-17,'text-anchor':'middle','font-size':51,'font-weight':'bold',fill:'#000'},g);
  tt.textContent=titles[i];
  
  
  const xt=mk('text',{x:L+PW/2,y:T+PH+92,'text-anchor':'middle','font-size':39,'font-weight':'bold',fill:'#000'},g);
  xt.textContent='Manually measured SMC(%)';
  
  
  const cy=T+PH/2, cx=L-86;
  const yt=mk('text',{x:cx,y:cy,'text-anchor':'middle','font-size':39,'font-weight':'bold',fill:'#000',transform:'rotate(-90 '+cx+' '+cy+')'},g);
  yt.textContent='SMC predicted by model(%)';
  
  
  const lines=['Training:','R²='+statsTrain[i][0],'MAE='+statsTrain[i][1],'RMSE='+statsTrain[i][2],'Testing:','R²='+statsTest[i][0],'MAE='+statsTest[i][1],'RMSE='+statsTest[i][2]];
  lines.forEach((s,k)=>{
    const t=mk('text',{x:L+42,y:T+statsOffset[i]+k*51.7,'font-size':35,'font-weight':'bold',fill:'#111'},g);
    t.textContent=s;
    
    
  });
  const lg=mk('g',{},g);
  
  
  const lt=mk('text',{x:L+PW-228,y:T+PH-106,'font-size':9,'font-weight':'bold',fill:'#333'},lg);
  lt.textContent='Dataset';
  
  
  const e1=mk('circle',{cx:L+PW-220,cy:T+PH-76,r:6,fill:TRAIN_C},lg);
  
  
  const t1=mk('text',{x:L+PW-204,y:T+PH-59,'font-size':47,'font-weight':'bold',fill:'#111'},lg);
  t1.textContent='Training';
  
  
  const e2=mk('circle',{cx:L+PW-220,cy:T+PH-36,r:6,fill:TEST_C},lg);
  
  
  const t2=mk('text',{x:L+PW-204,y:T+PH-19,'font-size':47,'font-weight':'bold',fill:'#111'},lg);
  t2.textContent='Testing';
  
  
}
</script>
</body></html>
